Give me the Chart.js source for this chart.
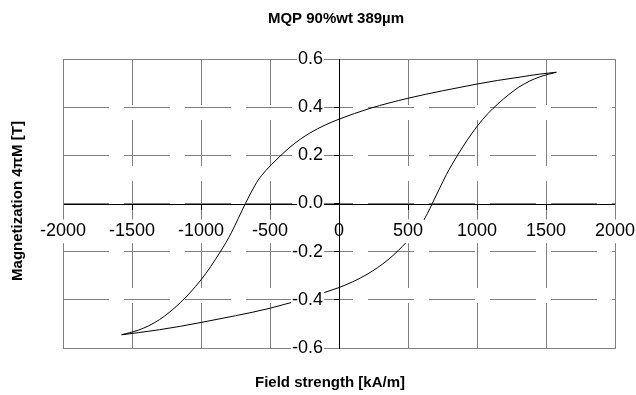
<!DOCTYPE html>
<html>
<head>
<meta charset="utf-8">
<script src="https://cdn.jsdelivr.net/npm/chart.js@4.4.1/dist/chart.umd.min.js"></script>
<style>
  html, body { margin: 0; padding: 0; background: #fff; }
  #wrap { width: 636px; height: 395px; }
</style>
</head>
<body>
<div id="wrap"><canvas id="loop" width="636" height="395"></canvas></div>
<script>
// Hysteresis loop, values
const upperField = [-1575, -1520, -1450, -1380, -1300, -1230, -1150, -1080, -1000, -930, -863, -820, -778, -730, -678,
    -640, -610, -585, -560, -530, -490, -428, -355, -280, -210, -100, 0, 225, 500, 750, 1000, 1150, 1313, 1450, 1575];
const upperMag = [-0.545, -0.537, -0.525, -0.508, -0.482, -0.452, -0.412, -0.371, -0.317, -0.262, -0.203, -0.163, -0.119, -0.062, 0.0,
    0.043, 0.074, 0.098, 0.117, 0.137, 0.161, 0.196, 0.234, 0.267, 0.293, 0.326, 0.35, 0.395, 0.437, 0.468, 0.496, 0.511, 0.525, 0.537, 0.545];

const lowerField = [-1575, -1450, -1300, -1150, -1000, -750, -500, -210, 0, 100, 210, 280, 355, 428, 490, 530, 560, 585, 610, 640, 676,
    730, 778, 820, 863, 930, 1000, 1080, 1150, 1230, 1300, 1380, 1450, 1520, 1575];
const lowerMag = [-0.545, -0.536, -0.524, -0.51, -0.494, -0.466, -0.435, -0.388, -0.349, -0.325, -0.292, -0.266, -0.234, -0.196, -0.16, -0.136, -0.116, -0.097, -0.073, -0.042, 0.0,
    0.064, 0.12, 0.163, 0.204, 0.264, 0.32, 0.374, 0.413, 0.452, 0.482, 0.508, 0.525, 0.537, 0.545];

const xTicks = [-2000, -1500, -1000, -500, 0, 500, 1000, 1500, 2000];
const yTicks = [-0.6, -0.4, -0.2, 0, 0.2, 0.4, 0.6];

const titleText = 'MQP 90%wt 389µm';
const xTitle = 'Field strength [kA/m]';
const yTitle = 'Magnetization 4πM [T]';

const FONT = '"Liberation Sans", Arial, sans-serif';

function toPoints(xs, ys) {
    return xs.map((x, i) => ({ x: x, y: ys[i] }));
}

// gray frame round the plot, plus the three titles
const frameAndTitles = {
    id: 'frameAndTitles',
    beforeDatasetsDraw(chart) {
        const { ctx, chartArea: a } = chart;
        ctx.save();
        ctx.strokeStyle = '#808080';
        ctx.lineWidth = 1;
        ctx.setLineDash([]);
        ctx.strokeRect(Math.round(a.left) + 0.5, Math.round(a.top) + 0.5,
            Math.round(a.right - a.left), Math.round(a.bottom - a.top));
        ctx.restore();
    },
    afterDraw(chart) {
        const ctx = chart.ctx;
        ctx.save();
        ctx.fillStyle = '#000';
        ctx.font = 'bold 15px ' + FONT;
        ctx.textAlign = 'center';
        ctx.textBaseline = 'middle';
        ctx.fillText(titleText, 336, 19);
        ctx.fillText(xTitle, 330, 383);
        ctx.translate(18, 201);
        ctx.rotate(-Math.PI / 2);
        ctx.fillText(yTitle, 0, 0);
        ctx.restore();
    }
};

function initLoopChart() {
    const ctx = document.getElementById('loop');
    if (!ctx) return;

    const lineStyle = {
        showLine: true,
        borderColor: '#000',
        borderWidth: 1,
        pointRadius: 0,
        fill: false,
        cubicInterpolationMode: 'monotone'
    };

    // the plot is symmetric, so 'center' puts the axes on x=0 and y=0
    new Chart(ctx, {
        type: 'scatter',
        data: {
            datasets: [
                Object.assign({ label: 'upper', data: toPoints(upperField, upperMag) }, lineStyle),
                Object.assign({ label: 'lower', data: toPoints(lowerField, lowerMag) }, lineStyle)
            ]
        },
        options: {
            responsive: false,
            animation: false,
            devicePixelRatio: 1,
            layout: { padding: { left: 63, right: 21, top: 59, bottom: 47 } },
            plugins: {
                legend: { display: false },
                title: { display: false },
                tooltip: { enabled: false }
            },
            scales: {
                x: {
                    type: 'linear',
                    min: -2000,
                    max: 2000,
                    position: 'center',
                    afterBuildTicks: s => { s.ticks = xTicks.map(v => ({ value: v })); },
                    afterFit: s => { s.height = 0; s.paddingLeft = 0; s.paddingRight = 0; },
                    grid: { color: '#808080', lineWidth: 1, tickColor: '#000', tickLength: 5, z: -1 },
                    border: { display: true, color: '#000', width: 1, dash: [46, 15], z: 0 },
                    ticks: {
                        autoSkip: false,
                        maxRotation: 0,
                        padding: 12,
                        color: '#000',
                        font: { family: FONT, size: 18 },
                        showLabelBackdrop: true,
                        backdropColor: '#fff',
                        backdropPadding: 1,
                        z: 1,
                        callback: v => String(v)
                    }
                },
                y: {
                    type: 'linear',
                    min: -0.6,
                    max: 0.6,
                    position: 'center',
                    afterBuildTicks: s => { s.ticks = yTicks.map(v => ({ value: v })); },
                    afterFit: s => { s.width = 0; s.paddingTop = 0; s.paddingBottom = 0; },
                    grid: { color: '#808080', lineWidth: 1, tickColor: '#000', tickLength: 5, z: -1 },
                    // drawn over the "0" label, as in the original
                    border: { display: true, color: '#000', width: 1, dash: [46, 15], z: 2 },
                    ticks: {
                        autoSkip: false,
                        padding: 11,
                        color: '#000',
                        font: { family: FONT, size: 18 },
                        showLabelBackdrop: true,
                        backdropColor: '#fff',
                        backdropPadding: 1,
                        z: 1,
                        callback: v => Number(v).toFixed(1)
                    }
                }
            }
        },
        plugins: [frameAndTitles]
    });
}

document.addEventListener('DOMContentLoaded', () => {
    initLoopChart();
});
</script>
</body>
</html>
